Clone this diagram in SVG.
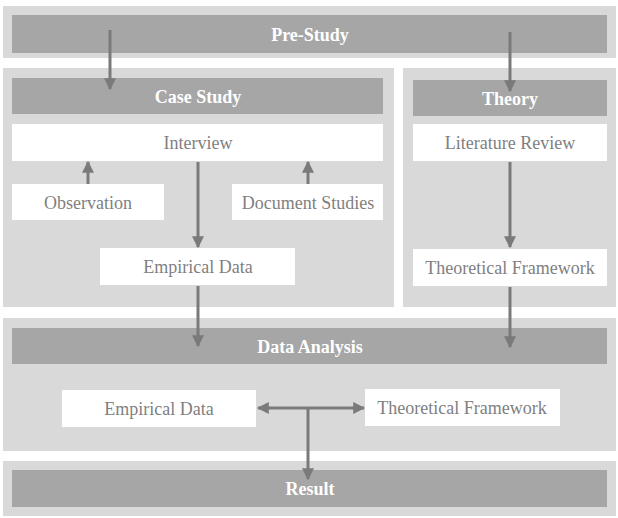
<svg xmlns="http://www.w3.org/2000/svg" width="618" height="518" viewBox="0 0 618 518">
<defs>
<style>
.panel{fill:#d9d9d9}
.bar{fill:#a6a6a6}
.box{fill:#ffffff}
.bt{font-family:'Liberation Serif','Times New Roman','DejaVu Serif',serif;font-weight:bold;font-size:18px;fill:#ffffff;text-anchor:middle}
.t{font-family:'Liberation Serif','Times New Roman','DejaVu Serif',serif;font-size:18px;fill:#7f7f7f;text-anchor:middle}
.c{stroke:#7a7a7a;stroke-width:3;fill:none}
</style>
<marker id="ah" viewBox="0 0 10 10" refX="9" refY="5" markerWidth="4" markerHeight="4" orient="auto-start-reverse" markerUnits="strokeWidth">
<path d="M0,0 L10,5 L0,10 z" fill="#7a7a7a"/>
</marker>
</defs>
<g id="panels">
<rect class="panel" x="3" y="6" width="613" height="52"/>
<rect class="panel" x="3" y="68" width="391" height="239"/>
<rect class="panel" x="403" y="68" width="213" height="239"/>
<rect class="panel" x="3" y="318" width="613" height="133"/>
<rect class="panel" x="3" y="461" width="613" height="55"/>
</g>
<g id="pre-study"><rect class="bar" x="12" y="15" width="595" height="38"/><text class="bt" x="310" y="41">Pre-Study</text></g>
<g id="case-study"><rect class="bar" x="12" y="78" width="371" height="36"/><text class="bt" x="198" y="103">Case Study</text></g>
<g id="theory"><rect class="bar" x="413" y="80" width="194" height="36"/><text class="bt" x="510" y="105">Theory</text></g>
<g id="interview"><rect class="box" x="12" y="124" width="371" height="37"/><text class="t" x="198" y="149">Interview</text></g>
<g id="observation"><rect class="box" x="12" y="184" width="152" height="36"/><text class="t" x="88" y="209">Observation</text></g>
<g id="document-studies"><rect class="box" x="232" y="184" width="151" height="36"/><text class="t" x="308" y="209">Document Studies</text></g>
<g id="empirical-data-1"><rect class="box" x="100" y="248" width="195" height="37"/><text class="t" x="198" y="273">Empirical Data</text></g>
<g id="literature-review"><rect class="box" x="413" y="124" width="194" height="37"/><text class="t" x="510" y="149">Literature Review</text></g>
<g id="theoretical-framework-1"><rect class="box" x="413" y="249" width="194" height="37"/><text class="t" x="510" y="274">Theoretical Framework</text></g>
<g id="data-analysis"><rect class="bar" x="12" y="328" width="595" height="36"/><text class="bt" x="310" y="353">Data Analysis</text></g>
<g id="empirical-data-2"><rect class="box" x="62" y="390" width="194" height="37"/><text class="t" x="159" y="415">Empirical Data</text></g>
<g id="theoretical-framework-2"><rect class="box" x="365" y="389" width="195" height="37"/><text class="t" x="462" y="414">Theoretical Framework</text></g>
<g id="result"><rect class="bar" x="12" y="470" width="595" height="37"/><text class="bt" x="310" y="495">Result</text></g>
<g id="connectors">
<line class="c" x1="110" y1="30" x2="110" y2="89" marker-end="url(#ah)"/>
<line class="c" x1="510" y1="32" x2="510" y2="91" marker-end="url(#ah)"/>
<line class="c" x1="88" y1="184" x2="88" y2="162" marker-end="url(#ah)"/>
<line class="c" x1="308" y1="184" x2="308" y2="162" marker-end="url(#ah)"/>
<line class="c" x1="198" y1="162" x2="198" y2="247" marker-end="url(#ah)"/>
<line class="c" x1="198" y1="286" x2="198" y2="346" marker-end="url(#ah)"/>
<line class="c" x1="510" y1="162" x2="510" y2="247" marker-end="url(#ah)"/>
<line class="c" x1="510" y1="287" x2="510" y2="347" marker-end="url(#ah)"/>
<line class="c" x1="258" y1="408" x2="364" y2="408" marker-start="url(#ah)" marker-end="url(#ah)"/>
<line class="c" x1="308" y1="408" x2="308" y2="479" marker-end="url(#ah)"/>
</g>
</svg>
